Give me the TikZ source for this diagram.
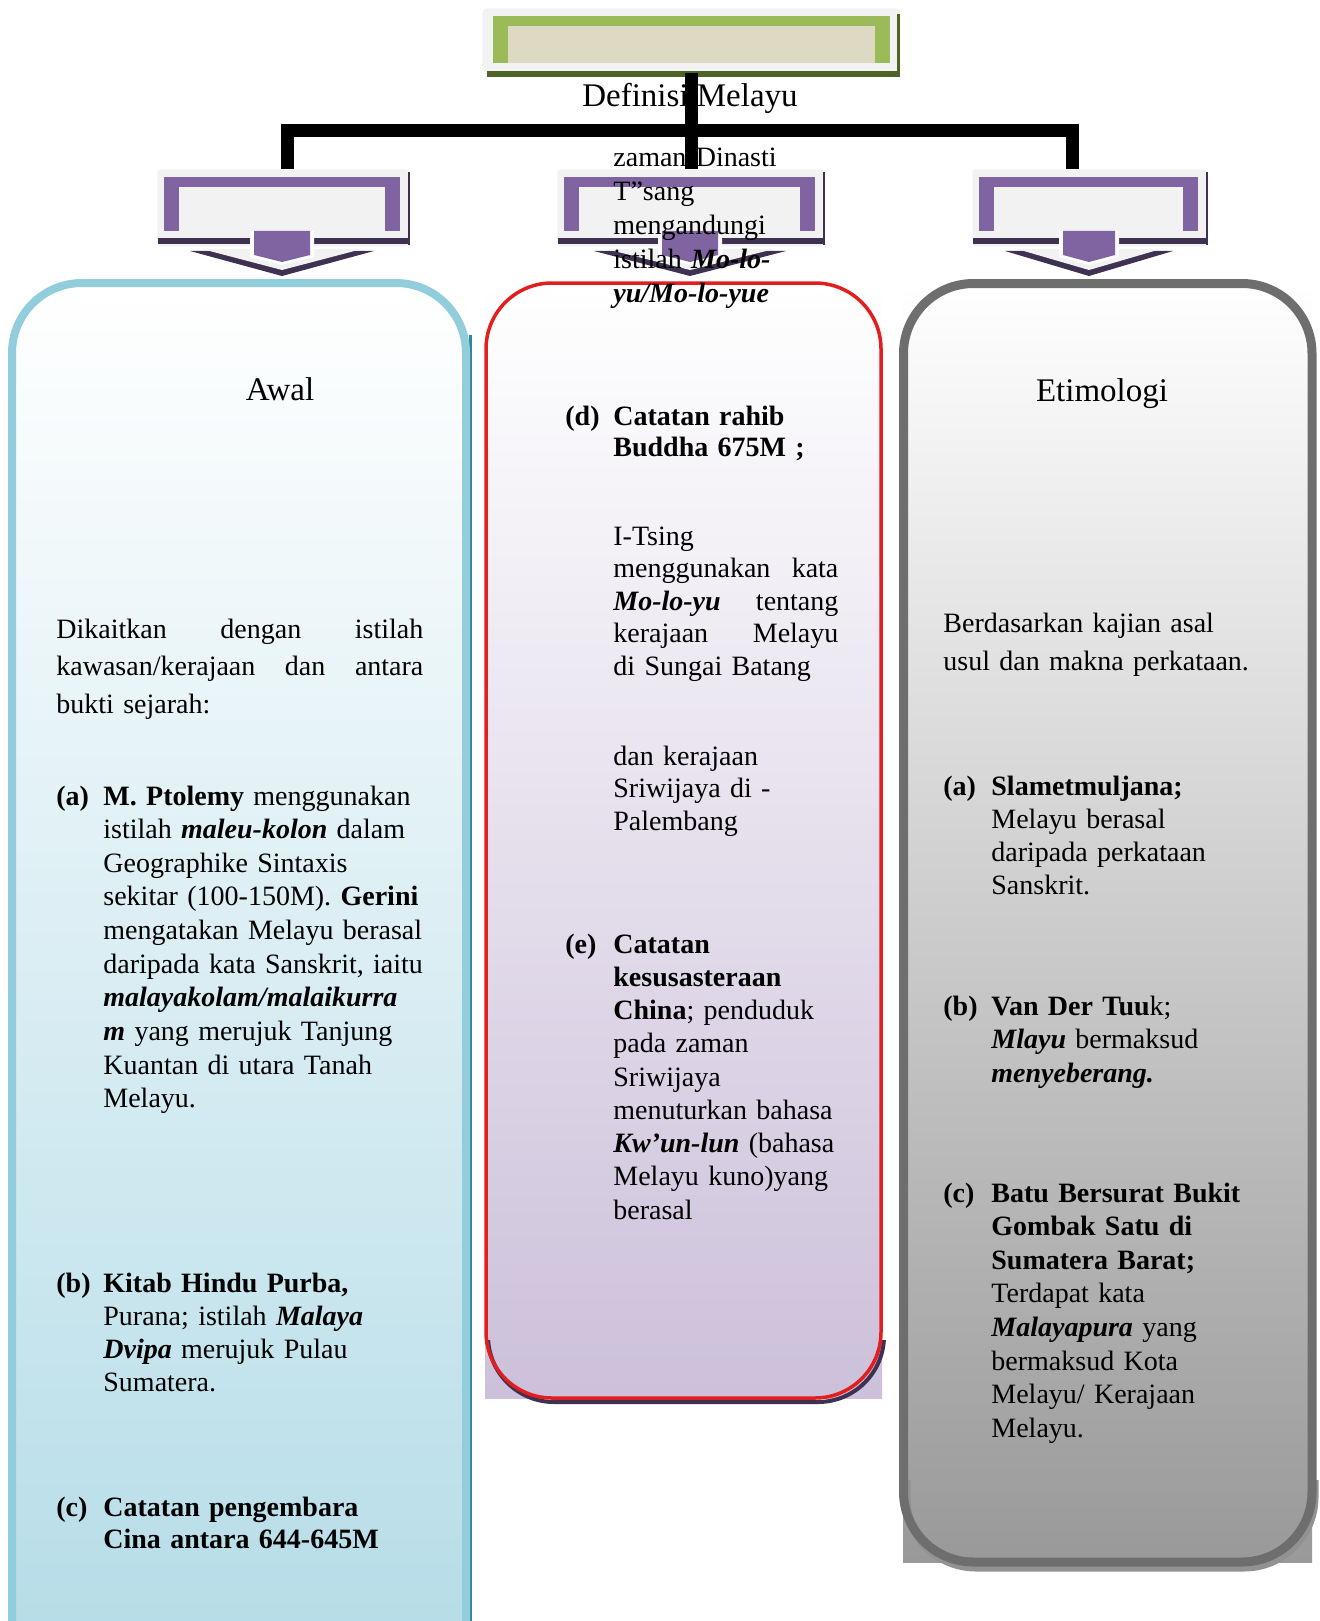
\documentclass[tikz,border=0pt]{standalone}
\usepackage{fontspec}
\setmainfont{Liberation Serif}

\definecolor{hijau}{HTML}{9BBB59}
\definecolor{hijaugelap}{HTML}{4F6228}
\definecolor{krem}{HTML}{DDD9C3}
\definecolor{ungu}{HTML}{8064A2}
\definecolor{ungugelap}{HTML}{3F3151}
\definecolor{kelabumuda}{HTML}{F2F2F2}
\definecolor{biru}{HTML}{92CDDC}
\definecolor{birugelap}{HTML}{31859C}
\definecolor{biruisi}{HTML}{B7DDE8}
\definecolor{merah}{HTML}{E31E1E}
\definecolor{lembayung}{HTML}{CCC0DA}
\definecolor{kelabu}{HTML}{6E6E6E}
\definecolor{kelabuisi}{HTML}{999999}

\tikzstyle{tajuk}=[inner sep=0pt, anchor=base, font=\fontsize{16.5}{19}\selectfont]
\tikzstyle{huruf}=[inner sep=0pt, anchor=base west, font=\fontsize{14}{16.8}\selectfont\bfseries]
\tikzstyle{sambung}=[line width=6.5pt, line join=miter, black]
\tikzstyle{bingkaipanah}=[fill=kelabumuda, inner sep=0pt, minimum height=38.5pt, rounded corners=1.5pt, anchor=north west]
\tikzstyle{bingkaijudul}=[fill=white!95!black, inner sep=0pt, minimum width=209pt, minimum height=32pt, rounded corners=2pt, anchor=north west]
\tikzset{isi/.style={inner sep=0pt, anchor=base west, align=left, font=\fontsize{14}{#1}\selectfont},
  isi/.default=16.8}

\newcommand{\rata}[1]{\makebox[\linewidth][s]{\spaceskip=.25em plus 1fil\relax #1}}
% panah ungu: nama, kiri, kanan, tengah, lebar anak panah, lebar tab
\newcommand{\panah}[6]{%
  \node[bingkaipanah, minimum width={(#3-#2)*0.5pt}] (#1) at (#2,169) {};
  \fill[ungugelap] (#2+1,238) rectangle (#3,244);
  \fill[ungugelap] (#3,172) rectangle (#3+2,245);
  \fill[ungu] (#2+7,177) rectangle (#3-8,231);
  \fill[kelabumuda] (#2+22,187) rectangle (#3-23,231);
  \fill[ungugelap] (#4-#5,251) -- (#4+#5,251) -- (#4,276) -- cycle;
  \fill[kelabumuda] (#4-#5+12,249) -- (#4+#5-12,249) -- (#4,270) -- cycle;
  \fill[white] (#4-#6-4,231) -- (#4+#6+4,231) -- (#4+#6+4,257) -- (#4,265) -- (#4-#6-4,257) -- cycle;
  \fill[ungu] (#4-#6,231) -- (#4+#6,231) -- (#4+#6,255) -- (#4,262) -- (#4-#6,255) -- cycle;
}

\begin{document}
\begin{tikzpicture}[x=0.5pt, y=-0.5pt]
  \path[use as bounding box, clip] (0,0) rectangle (1319,1621);

  % kotak
  \fill[top color=white, bottom color=biruisi] (12,283) rectangle (466,1621);
  \fill[top color=white, bottom color=lembayung] (485,283) rectangle (882,1398);
  \fill[top color=white, bottom color=kelabuisi] (903,283) rectangle (1312,1562);

  \draw[birugelap, line width=1.5pt] (470.5,335) -- (470.5,1621);
  \draw[biru, line width=4pt, rounded corners=35pt] (12,283) rectangle (466,1700);
  \begin{scope}
    \clip (480,1340) rectangle (900,1420);
    \draw[ungugelap, line width=2pt, rounded corners=33pt] (488,287) rectangle (884,1402);
  \end{scope}
  \draw[merah, line width=1.75pt, rounded corners=33pt] (486,283) rectangle (881,1398);
  \begin{scope}
    \clip (900,1480) rectangle (1319,1621);
    \draw[kelabu!75, line width=4.5pt, rounded corners=35pt] (906,289) rectangle (1314,1567);
  \end{scope}
  \draw[kelabu, line width=4.5pt, rounded corners=35pt] (903.5,283.5) rectangle (1312,1562);

  % judul dan panah
  \node[bingkaijudul] (judul) at (482,8) {};
  \fill[hijaugelap] (487,71) rectangle (900,77);
  \fill[hijaugelap] (897,14) rectangle (900,77);
  \fill[hijau] (493,16) rectangle (890,63);
  \fill[krem] (508,26) rectangle (875,63);

  \panah{awalpanah}{157}{408}{282}{92}{28}
  \panah{tengahpanah}{557}{823}{690}{96}{28}
  \panah{etimpanah}{972}{1206}{1089}{84}{26}

  \node[tajuk] (judulteks) at (690,107) {Definisi Melayu};
  \node[tajuk] (awal) at (280,400) {Awal};
  \node[tajuk] (etimologi) at (1102,401) {Etimologi};

  % lajur awal
  \node[isi=18.85, text width=183.5pt] (awalintro) at (56,638)
    {\rata{Dikaitkan dengan istilah}\\ \rata{kawasan/kerajaan dan antara}\\ bukti sejarah:};
  \node[huruf] (awala) at (56,805) {(a)};
  \node[isi=16.83, text width=185pt] (awalateks) at (103,805)
    {\textbf{M. Ptolemy} menggunakan\\ istilah \textbf{\textit{maleu-kolon}} dalam\\ Geographike Sintaxis\\
     sekitar (100-150M). \textbf{Gerini}\\ mengatakan Melayu berasal\\ daripada kata Sanskrit, iaitu\\
     \textbf{\textit{malayakolam/malaikurra}}\\ \textbf{\textit{m}} yang merujuk Tanjung\\ Kuantan di utara Tanah\\ Melayu.};
  \node[huruf] (awalb) at (56,1292) {(b)};
  \node[isi=16.6, text width=185pt] (awalbteks) at (103,1292)
    {\textbf{Kitab Hindu Purba,}\\ Purana; istilah \textbf{\textit{Malaya}}\\ \textbf{\textit{Dvipa}} merujuk Pulau\\ Sumatera.};
  \node[huruf] (awalc) at (56,1516) {(c)};
  \node[isi=16, text width=185pt] (awalcteks) at (103,1516)
    {\textbf{Catatan pengembara}\\ \textbf{Cina antara 644-645M}};

  % lajur tengah
  \node[isi=16.9, text width=150pt] (tengahatas) at (613,167)
    {zaman Dinasti\\ T"sang\\ mengandungi\\ istilah \textbf{\textit{Mo-lo-}}\\ \textbf{\textit{yu/Mo-lo-yue}}};
  \node[huruf] (tengahd) at (565,425) {(d)};
  \node[isi=15.5, text width=150pt] (tengahdteks) at (613,425)
    {\textbf{Catatan rahib}\\ \textbf{Buddha 675M ;}};
  \node[isi=16.25, text width=112.5pt] (itsing) at (613,545)
    {I-Tsing\\ \rata{menggunakan kata}\\ \rata{\textbf{\textit{Mo-lo-yu}} tentang}\\ \rata{kerajaan Melayu}\\ di Sungai Batang};
  \node[isi=16.25, text width=150pt] (sriwijaya) at (613,765)
    {dan kerajaan\\ Sriwijaya di -\\ Palembang};
  \node[huruf] (tengahe) at (565,953) {(e)};
  \node[isi=16.63, text width=150pt] (tengaheteks) at (613,953)
    {\textbf{Catatan}\\ \textbf{kesusasteraan}\\ \textbf{China}; penduduk\\ pada zaman\\ Sriwijaya\\
     menuturkan bahasa\\ \textbf{\textit{Kw’un-lun}} (bahasa\\ Melayu kuno)yang\\ berasal};

  % lajur etimologi
  \node[isi=19, text width=185pt] (etimintro) at (943,632)
    {Berdasarkan kajian asal\\ usul dan makna perkataan.};
  \node[huruf] (etima) at (943,795) {(a)};
  \node[isi=16.5, text width=150pt] (etimateks) at (991,795)
    {\textbf{Slametmuljana;}\\ Melayu berasal\\ daripada perkataan\\ Sanskrit.};
  \node[huruf] (etimb) at (943,1015) {(b)};
  \node[isi=16.75, text width=150pt] (etimbteks) at (991,1015)
    {\textbf{Van Der Tuu}k;\\ \textbf{\textit{Mlayu}} bermaksud\\ \textbf{\textit{menyeberang.}}};
  \node[huruf] (etimc) at (943,1202) {(c)};
  \node[isi=16.8, text width=150pt] (etimcteks) at (991,1202)
    {\textbf{Batu Bersurat Bukit}\\ \textbf{Gombak Satu di}\\ \textbf{Sumatera Barat;}\\ Terdapat kata\\
     \textbf{\textit{Malayapura}} yang\\ bermaksud Kota\\ Melayu/ Kerajaan\\ Melayu.};

  % penyambung
  \coordinate (simpangkiri) at (287,131);
  \coordinate (simpangkanan) at (1072,131);
  \draw[sambung] (judul.south) -- (judul.south |- tengahpanah.north);
  \draw[sambung] (simpangkiri |- awalpanah.north) -- (simpangkiri) -- (simpangkanan) -- (simpangkanan |- etimpanah.north);
\end{tikzpicture}
\end{document}
